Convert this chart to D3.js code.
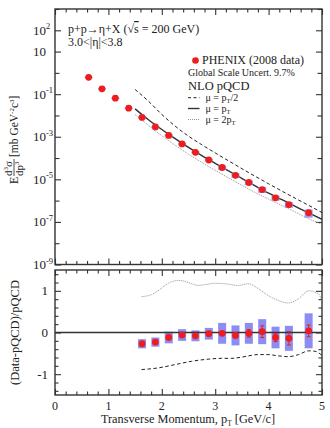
<!DOCTYPE html>
<html lang="en">
<head>
<meta charset="UTF-8">
<title>eta cross section</title>
<script src="https://cdnjs.cloudflare.com/ajax/libs/d3/7.8.5/d3.min.js"></script>
<style>
  body { margin: 0; background: #fff; }
  svg { display: block; font-family: "Liberation Serif", "DejaVu Serif", serif; fill: #222; }
</style>
</head>
<body>
<svg id="chart" width="330" height="428"></svg>
<script>
// PHENIX data points (top panel)
const ptData = [0.63, 0.88, 1.13, 1.38, 1.63, 1.88, 2.13, 2.38, 2.63, 2.88, 3.13, 3.38, 3.63, 3.88, 4.13, 4.38, 4.75];
const xsec = [0.62, 0.178, 0.0646, 0.0219, 8.1e-3, 2.9e-3, 1.15e-3, 4.6e-4, 1.86e-4, 8.1e-5, 3.6e-5, 1.55e-5, 7.1e-6, 3.3e-6, 1.35e-6, 6.5e-7, 2.7e-7];
const xsecSyst = [0.08, 0.08, 0.08, 0.08, 0.11, 0.11, 0.14, 0.14, 0.13, 0.14, 0.25, 0.24, 0.25, 0.30, 0.26, 0.30, 0.42];

// NLO pQCD curves (top panel)
const ptTheory = [1.5, 1.75, 2.0, 2.25, 2.5, 2.75, 3.0, 3.25, 3.5, 3.75, 4.0, 4.25, 4.5, 4.75, 5.0];
const nloHalf = [0.166, 0.0468, 0.0112, 3.16e-3, 1.07e-3, 4.2e-4, 1.74e-4, 7.4e-5, 3.16e-5, 1.38e-5, 6.2e-6, 2.8e-6, 1.29e-6, 6.0e-7, 2.75e-7];
const nloOne = [2.04e-2, 6.3e-3, 2.19e-3, 8.1e-4, 3.16e-4, 1.29e-4, 5.6e-5, 2.5e-5, 1.10e-5, 4.9e-6, 2.24e-6, 1.10e-6, 5.4e-7, 2.63e-7, 1.32e-7];
const nloTwo = [1.10e-2, 3.4e-3, 1.12e-3, 4.0e-4, 1.51e-4, 6.2e-5, 2.63e-5, 1.17e-5, 5.2e-6, 2.4e-6, 1.17e-6, 5.9e-7, 2.9e-7, 1.41e-7, 7.6e-8];

// (Data-pQCD)/pQCD (lower panel)
const ptRatio = [1.63, 1.88, 2.13, 2.38, 2.63, 2.88, 3.13, 3.38, 3.63, 3.88, 4.13, 4.38, 4.75];
const ratio = [-0.27, -0.23, -0.12, -0.06, -0.08, -0.03, -0.02, -0.07, -0.02, 0.02, -0.12, -0.14, 0.04];
const ratioSyst = [0.11, 0.11, 0.14, 0.14, 0.13, 0.14, 0.25, 0.24, 0.25, 0.30, 0.26, 0.30, 0.42];
const ratioStat = [0.03, 0.03, 0.03, 0.03, 0.04, 0.04, 0.05, 0.06, 0.09, 0.14, 0.10, 0.16, 0.14];

const ptDot = [1.62, 1.81, 1.93, 2.12, 2.31, 2.43, 2.56, 2.68, 2.81, 3.0, 3.18, 3.43, 3.62, 3.81, 3.99, 4.18, 4.37, 4.56, 4.75, 4.93, 5.0];
const ratioTwo = [0.86, 0.91, 1.0, 1.18, 1.25, 1.23, 1.17, 1.13, 1.15, 1.18, 1.17, 1.13, 1.17, 1.05, 0.89, 0.77, 0.71, 0.81, 1.0, 0.93, 0.75];
const ptDash = [1.62, 1.93, 2.25, 2.56, 2.87, 3.12, 3.31, 3.50, 3.81, 3.99, 4.18, 4.37, 4.56, 4.75, 4.87, 5.0];
const ratioHalf = [-0.89, -0.85, -0.77, -0.69, -0.64, -0.62, -0.62, -0.59, -0.53, -0.53, -0.56, -0.58, -0.53, -0.44, -0.45, -0.55];

const topLabels = [2, 1, -1, -3, -5, -7, -9];

const svg = d3.select("#chart");
const L = 55, R = 322, T1 = 9, B1 = 264.5, T2 = 270, B2 = 395;

const x = d3.scaleLinear([0, 5], [L, R]);
const yTop = d3.scaleLog([1e-9, 1e3], [B1, T1]);
const yLow = d3.scaleLinear([-1.5, 1.5], [B2, T2]);

const red = "#ee1c1c", blue = "#8c8cf2", ink = "#333";

// clip paths
const defs = svg.append("defs");
defs.append("clipPath").attr("id", "clipTop").append("rect").attr("x", L).attr("y", T1).attr("width", R - L).attr("height", B1 - T1);
defs.append("clipPath").attr("id", "clipLow").append("rect").attr("x", L).attr("y", T2).attr("width", R - L).attr("height", B2 - T2);

// ---------- ticks ----------
const xMajor = d3.range(0, 6);
const xMinor = d3.range(0, 5.01, 0.2).filter(v => Math.abs(v - Math.round(v)) > 1e-6);

function xTicks(yPos, dir, vals, len) {
  // dir: +1 ticks pointing down, -1 ticks pointing up
  const ax = dir > 0 ? d3.axisTop(x) : d3.axisBottom(x);
  svg.append("g").attr("transform", `translate(0,${yPos})`)
    .call(ax.tickValues(vals).tickSize(-len).tickFormat(""))
    .call(g => g.select(".domain").remove())
    .selectAll("line").attr("stroke", ink).attr("stroke-width", 1.1);
}
function yTicks(scale, xPos, side, vals, len) {
  const ax = side === "left" ? d3.axisLeft(scale) : d3.axisRight(scale);
  svg.append("g").attr("transform", `translate(${xPos},0)`)
    .call(ax.tickValues(vals).tickSize(-len).tickFormat(""))
    .call(g => g.select(".domain").remove())
    .selectAll("line").attr("stroke", ink).attr("stroke-width", 1.1);
}

[[T1, 1], [B1, -1], [T2, 1], [B2, -1]].forEach(([yy, d]) => {
  xTicks(yy, d, xMajor, 6);
  xTicks(yy, d, xMinor, 3.5);
});

const decades = d3.range(-9, 4).map(e => Math.pow(10, e));
const decLabeled = decades.filter(v => topLabels.includes(Math.round(Math.log10(v))));
const decPlain = decades.filter(v => !topLabels.includes(Math.round(Math.log10(v))));
["left", "right"].forEach(side => {
  const xp = side === "left" ? L : R;
  yTicks(yTop, xp, side, decLabeled, 6);
  yTicks(yTop, xp, side, decPlain, 4.5);
  yTicks(yLow, xp, side, [-1, 0, 1], 6);
  yTicks(yLow, xp, side, d3.range(-1.4, 1.41, 0.2).filter(v => Math.abs(v - Math.round(v)) > 1e-6), 3.5);
});

// frames
[[T1, B1], [T2, B2]].forEach(([a, b]) => {
  svg.append("rect").attr("x", L).attr("y", a).attr("width", R - L).attr("height", b - a)
    .attr("fill", "none").attr("stroke", ink).attr("stroke-width", 1.4);
});

// ---------- tick labels ----------
topLabels.forEach(e => {
  const t = svg.append("text").attr("x", 33).attr("y", yTop(Math.pow(10, e)) + 4.5).attr("font-size", 13);
  t.append("tspan").text("10");
  if (e !== 1) t.append("tspan").attr("dy", -5.5).attr("font-size", 8.5).text(e < 0 ? "-" + (-e) : e);
});
[-1, 0, 1].forEach(v => {
  svg.append("text").attr("x", 48).attr("y", yLow(v) + 4.5).attr("text-anchor", "end")
    .attr("font-size", 13).text(v);
});
xMajor.forEach(v => {
  svg.append("text").attr("x", x(v)).attr("y", 409.5).attr("text-anchor", "middle")
    .attr("font-size", 12).text(v);
});

// ---------- axis titles ----------
const xt = svg.append("text").attr("x", 188).attr("y", 423).attr("text-anchor", "middle").attr("font-size", 12.3);
xt.append("tspan").text("Transverse Momentum, p");
xt.append("tspan").attr("dy", 3).attr("font-size", 7.5).text("T");
xt.append("tspan").attr("dy", -3).text(" [GeV/c]");

svg.append("text").attr("transform", `translate(19,${yLow(0)}) rotate(-90)`)
  .attr("text-anchor", "middle").attr("font-size", 12.5).text("(Data-pQCD)/pQCD");

const yl = svg.append("g").attr("transform", "translate(18,184) rotate(-90)");
yl.append("text").attr("x", 0).attr("y", 0).attr("font-size", 12).text("E");
const nm = yl.append("text").attr("x", 8).attr("y", -6).attr("font-size", 11);
nm.append("tspan").text("d");
nm.append("tspan").attr("dy", -4).attr("font-size", 7).text("3");
nm.append("tspan").attr("dy", 4).text("σ");
yl.append("line").attr("x1", 8).attr("x2", 25).attr("y1", -4).attr("y2", -4).attr("stroke", "#222").attr("stroke-width", 0.8);
const dn = yl.append("text").attr("x", 8).attr("y", 5).attr("font-size", 11);
dn.append("tspan").text("dp");
dn.append("tspan").attr("dy", -4).attr("font-size", 7).text("3");
const un = yl.append("text").attr("x", 27).attr("y", 0).attr("font-size", 11.5);
un.append("tspan").text("[mb GeV");
un.append("tspan").attr("dy", -4.5).attr("font-size", 7).text("-2");
un.append("tspan").attr("dy", 4.5).text("c");
un.append("tspan").attr("dy", -4.5).attr("font-size", 7).text("3");
un.append("tspan").attr("dy", 4.5).text("]");

// ---------- annotation ----------
const a1 = svg.append("text").attr("x", 68).attr("y", 33).attr("font-size", 12);
a1.append("tspan").text("p+p→η+X (");
a1.append("tspan").text("√");
a1.append("tspan").attr("text-decoration", "overline").text("s");
a1.append("tspan").text(" = 200 GeV)");
svg.append("text").attr("x", 68).attr("y", 45.5).attr("font-size", 12).text("3.0<|η|<3.8");

// ---------- legend ----------
svg.append("circle").attr("cx", 195.5).attr("cy", 60.5).attr("r", 3.3).attr("fill", red);
svg.append("text").attr("x", 202).attr("y", 64).attr("font-size", 12).text("PHENIX (2008 data)");
svg.append("text").attr("x", 188).attr("y", 75.5).attr("font-size", 10).text("Global Scale Uncert. 9.7%");
svg.append("text").attr("x", 188).attr("y", 89.5).attr("font-size", 12.5).text("NLO pQCD");
const legRows = [
  { y: 97.7, dash: "3,2.5", color: "#222", w: 1, suf: "/2", pre: "" },
  { y: 108.5, dash: null, color: "#333", w: 1.4, suf: "", pre: "" },
  { y: 119.5, dash: "1,1", color: "#888", w: 0.9, suf: "", pre: "2" }
];
legRows.forEach(r => {
  svg.append("line").attr("x1", 188).attr("x2", 199.5).attr("y1", r.y).attr("y2", r.y)
    .attr("stroke", r.color).attr("stroke-width", r.w).attr("stroke-dasharray", r.dash);
  const t = svg.append("text").attr("x", 205.5).attr("y", r.y + 3.2).attr("font-size", 10);
  t.append("tspan").text("μ = " + r.pre + "p");
  t.append("tspan").attr("dy", 2.5).attr("font-size", 6.5).text("T");
  if (r.suf) t.append("tspan").attr("dy", -2.5).text(r.suf);
});

// ---------- top panel ----------
const gTop = svg.append("g").attr("clip-path", "url(#clipTop)");
const curveStyles = [
  { vals: nloHalf, dash: "3.5,2.5", color: "#222", w: 1 },
  { vals: nloOne, dash: null, color: "#333", w: 1.4 },
  { vals: nloTwo, dash: "1,1", color: "#888", w: 0.9 }
];
curveStyles.forEach(c => {
  const line = d3.line().x((d, i) => x(ptTheory[i])).y(d => yTop(d)).curve(d3.curveMonotoneX);
  gTop.append("path").attr("d", line(c.vals)).attr("fill", "none")
    .attr("stroke", c.color).attr("stroke-width", c.w).attr("stroke-dasharray", c.dash);
});
gTop.selectAll("rect.sys").data(xsec).join("rect").attr("class", "sys")
  .attr("x", (d, i) => x(ptData[i]) - 4)
  .attr("y", (d, i) => yTop(d * (1 + xsecSyst[i])))
  .attr("width", 8)
  .attr("height", (d, i) => yTop(d * (1 - xsecSyst[i])) - yTop(d * (1 + xsecSyst[i])))
  .attr("fill", blue).attr("opacity", 0.85);
gTop.selectAll("circle.pt").data(xsec).join("circle").attr("class", "pt")
  .attr("cx", (d, i) => x(ptData[i])).attr("cy", d => yTop(d)).attr("r", 3.4).attr("fill", red);

// ---------- lower panel ----------
const gLow = svg.append("g").attr("clip-path", "url(#clipLow)");
gLow.append("path")
  .attr("d", d3.line().x((d, i) => x(ptDot[i])).y(d => yLow(d)).curve(d3.curveMonotoneX)(ratioTwo))
  .attr("fill", "none").attr("stroke", "#888").attr("stroke-width", 0.9).attr("stroke-dasharray", "1,1");
gLow.append("path")
  .attr("d", d3.line().x((d, i) => x(ptDash[i])).y(d => yLow(d)).curve(d3.curveMonotoneX)(ratioHalf))
  .attr("fill", "none").attr("stroke", "#222").attr("stroke-width", 1).attr("stroke-dasharray", "3.5,2.5");
gLow.selectAll("rect.sys").data(ratio).join("rect").attr("class", "sys")
  .attr("x", (d, i) => x(ptRatio[i]) - 4)
  .attr("y", (d, i) => yLow(d + ratioSyst[i]))
  .attr("width", 8)
  .attr("height", (d, i) => yLow(d - ratioSyst[i]) - yLow(d + ratioSyst[i]))
  .attr("fill", blue);
gLow.append("line").attr("x1", L).attr("x2", R).attr("y1", yLow(0)).attr("y2", yLow(0))
  .attr("stroke", ink).attr("stroke-width", 1.3);
ratio.forEach((d, i) => {
  const cx = x(ptRatio[i]);
  const y1 = yLow(d + ratioStat[i]), y2 = yLow(d - ratioStat[i]);
  gLow.append("line").attr("x1", cx).attr("x2", cx).attr("y1", y1).attr("y2", y2).attr("stroke", red).attr("stroke-width", 1);
  [y1, y2].forEach(yy => gLow.append("line").attr("x1", cx - 2).attr("x2", cx + 2).attr("y1", yy).attr("y2", yy)
    .attr("stroke", red).attr("stroke-width", 1));
});
gLow.selectAll("circle.pt").data(ratio).join("circle").attr("class", "pt")
  .attr("cx", (d, i) => x(ptRatio[i])).attr("cy", d => yLow(d)).attr("r", 3.4).attr("fill", red);
</script>
</body>
</html>
